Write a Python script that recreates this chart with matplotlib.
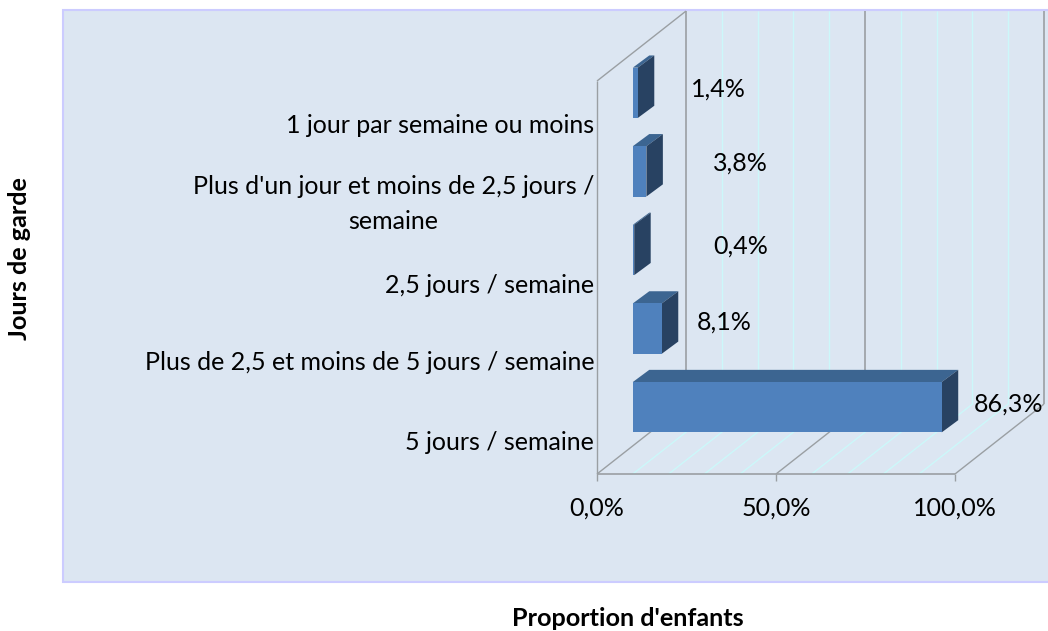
import matplotlib
matplotlib.use("Agg")
import matplotlib.pyplot as plt
from matplotlib.patches import Polygon, Rectangle

# Data, bottom to top
categories = [
    "5 jours / semaine",
    "Plus de 2,5 et moins de 5 jours / semaine",
    "2,5 jours / semaine",
    "Plus d'un jour et moins de 2,5 jours /\nsemaine",
    "1 jour par semaine ou moins",
]
values = [86.3, 8.1, 0.4, 3.8, 1.4]
x_ticks = [0, 50, 100]
x_tick_labels = ["0,0%", "50,0%", "100,0%"]

# Layout of the fake 3D box
W, H = 1048, 631
DEPTH_X, DEPTH_Y = 24.86, 0.89      # box depth in data units
BAR_LEFT = 10.0
BAR_BASE = 0.53
BAR_H = 0.64
BAR_DX, BAR_DY = 4.6, 0.155         # bar depth in data units
LABEL_X = [115.0, 35.6, 40.0, 40.0, 33.8]
LABEL_Y = [0.89, 1.93, 2.90, 3.96, 4.90]
TICK_Y = [0.42, 1.44, 2.42, 3.535, 4.46]

FRONT = "#4F81BD"
TOP = "#3C6591"
SIDE = "#284262"
GRID_MAJOR = "#9A9FA3"
GRID_MINOR = "#CCF8FA"

plt.rcParams["font.family"] = ["Lato", "DejaVu Sans"]

fig = plt.figure(figsize=(W / 100, H / 100), dpi=100, facecolor="white")

# chart background
fig.add_artist(Rectangle((63 / W, 1 - 582 / H), (W - 60) / W, 572 / H,
                         transform=fig.transFigure, facecolor="#DCE6F2",
                         edgecolor="#CCCCFF", linewidth=1.5, zorder=-1))

ax = fig.add_axes([597 / W, 1 - 474 / H, 358 / W, 393 / H])
ax.patch.set_visible(False)
ax.set_xlim(0, 100)
ax.set_ylim(0, 5)
for s in ax.spines.values():
    s.set_visible(False)


def line(xs, ys, color=GRID_MAJOR, lw=1.0, z=1):
    ax.plot(xs, ys, color=color, lw=lw, zorder=z, clip_on=False,
            solid_capstyle="butt")


# minor grid on floor and back wall
for x in range(10, 100, 10):
    if x == 50:
        continue
    line([x, x + DEPTH_X], [0, DEPTH_Y], GRID_MINOR, 1.0)
    line([x + DEPTH_X, x + DEPTH_X], [DEPTH_Y, 5 + DEPTH_Y], GRID_MINOR, 1.0)

# major grid
for x in x_ticks:
    line([x, x + DEPTH_X], [0, DEPTH_Y])
    line([x + DEPTH_X, x + DEPTH_X], [DEPTH_Y, 5 + DEPTH_Y], lw=1.2)
line([0, 0], [0, 5])
line([0, DEPTH_X], [5, 5 + DEPTH_Y])
line([0, 100], [0, 0], lw=1.2)

# bars, front face plus top and side
ypos = [i + BAR_BASE + BAR_H / 2 for i in range(len(values))]
bars = ax.barh(ypos, values, height=BAR_H, left=BAR_LEFT, color=FRONT, zorder=4)
for b in bars:
    b.set_clip_on(False)
for y, v in zip(ypos, values):
    x0, x1 = BAR_LEFT, BAR_LEFT + v
    y0, y1 = y - BAR_H / 2, y + BAR_H / 2
    ax.add_patch(Polygon([(x0, y1), (x1, y1), (x1 + BAR_DX, y1 + BAR_DY),
                          (x0 + BAR_DX, y1 + BAR_DY)], facecolor=TOP,
                         edgecolor="none", zorder=3, clip_on=False))
    ax.add_patch(Polygon([(x1, y0), (x1, y1), (x1 + BAR_DX, y1 + BAR_DY),
                          (x1 + BAR_DX, y0 + BAR_DY)], facecolor=SIDE,
                         edgecolor="none", zorder=3, clip_on=False))

# data labels
for v, lx, ly in zip(values, LABEL_X, LABEL_Y):
    ax.text(lx, ly, f"{v:.1f}%".replace(".", ","), ha="center", va="center",
            fontsize=18, color="black", zorder=5, clip_on=False)

# axes ticks and labels
ax.set_xticks(x_ticks)
ax.set_xticklabels(x_tick_labels, fontsize=18)
ax.tick_params(axis="x", length=5, width=1, color=GRID_MAJOR, pad=11)
ax.set_yticks(TICK_Y)
ax.set_yticklabels(categories, fontsize=18, linespacing=1.6, multialignment="center")
ax.tick_params(axis="y", length=0, pad=2)

fig.text(20 / W, 1 - 259 / H, "Jours de garde", rotation=90, ha="center",
         va="center", fontsize=18.2, fontweight="bold")
fig.text(628 / W, 1 - 619 / H, "Proportion d'enfants", ha="center",
         va="center", fontsize=18.2, fontweight="bold")

fig.savefig("out.png", dpi=100)
